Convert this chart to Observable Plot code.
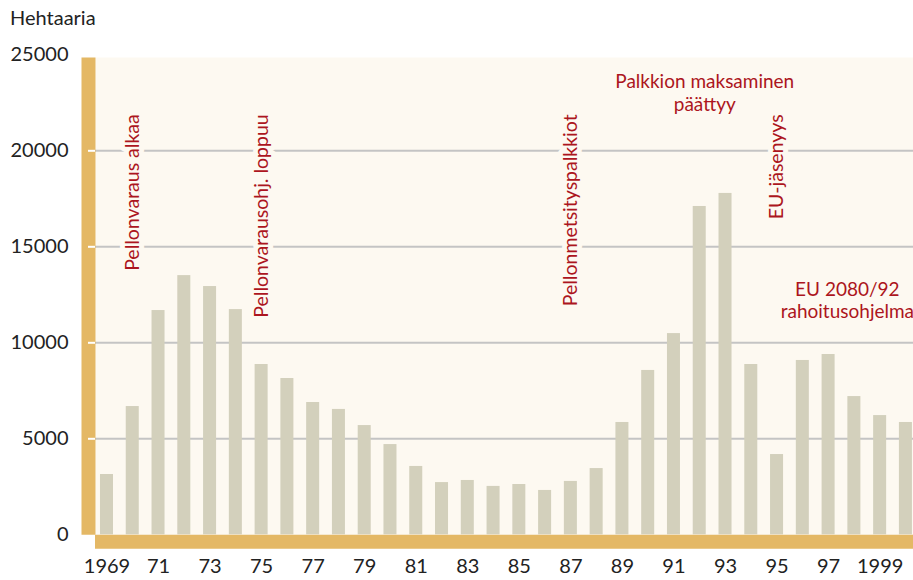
<!DOCTYPE html>
<html><head><meta charset="utf-8">
<script src="https://cdn.jsdelivr.net/npm/d3@7"></script>
<script src="https://cdn.jsdelivr.net/npm/@observablehq/plot@0.6"></script>
<style>
html,body{margin:0;padding:0;background:#fff;overflow:hidden;font-family:Lato,"Open Sans",sans-serif}
#wrap{position:relative;width:913px;height:580px}
#title{position:absolute;left:10px;top:5px;font-size:20px;color:#222;line-height:24px}
#chart{position:absolute;left:0;top:0}
</style></head><body>
<div id="wrap"><div id="chart"></div><div id="title">Hehtaaria</div></div>
<script>
const years = [1969,1970,1971,1972,1973,1974,1975,1976,1977,1978,1979,1980,1981,1982,1983,1984,1985,1986,1987,1988,1989,1990,1991,1992,1993,1994,1995,1996,1997,1998,1999,2000];
const values = [3140,6680,11680,13500,12930,11730,8870,8140,6890,6530,5690,4700,3560,2720,2830,2520,2620,2310,2780,3450,5850,8560,10480,17100,17780,8870,4180,9080,9390,7200,6210,5850];
const xTickYears = [1969,1971,1973,1975,1977,1979,1981,1983,1985,1987,1989,1991,1993,1995,1997,1999];
const xTickLabels = ["1969","71","73","75","77","79","81","83","85","87","89","91","93","95","97","1999"];
const yTickValues = [0,5000,10000,15000,20000,25000];
const yGridValues = [5000,10000,15000,20000];
const vNoteTexts = ["Pellonvaraus alkaa","Pellonvarausohj. loppuu","Pellonmetsityspalkkiot","EU-jäsenyys"];
const vNoteYears = [1970,1975,1987,1995];
const vNoteTop = [21900,21900,21900,21900];
const hNoteTexts = ["Palkkion maksaminen\npäättyy","EU 2080/92\nrahoitusohjelma"];
const hNoteYears = [1992,1998];
const hNoteY = [23060,12250];

const cream = "#fdf9f1", yellow = "#e4b865", barColor = "#d3d0bc", grid = "#c4c4c4", red = "#ac1520";

const data = years.map((year,i)=>({year, value: values[i]}));
const vNotes = vNoteTexts.map((t,i)=>({text:t, year:vNoteYears[i], y:vNoteTop[i]}));
const hNotes = hNoteTexts.map((t,i)=>({text:t, year:hNoteYears[i], y:hNoteY[i], dx: i===0?5:-7}));
const labelOf = new Map(xTickYears.map((y,i)=>[y, xTickLabels[i]]));

const chart = Plot.plot({
  width: 913, height: 580,
  marginLeft: 95, marginRight: 0, marginTop: 57, marginBottom: 45.7,
  style: {fontFamily: "Lato, 'Open Sans', sans-serif", fontSize: "20px", color: "#222", background: "transparent", overflow: "visible"},
  x: {type: "band", domain: years, range: [93.6, 918.3], paddingInner: 0.495, paddingOuter: 0.2475, align: 0.5, round: false},
  y: {domain: [0, 25000], range: [534.3, 54.3]},
  marks: [
    Plot.frame({fill: cream, stroke: null}),
    Plot.gridY(yGridValues, {stroke: grid, strokeWidth: 2, strokeOpacity: 1}),
    Plot.barY(data, {x: "year", y: "value", fill: barColor}),
    Plot.text(vNotes, {x: "year", y: "y", text: "text", rotate: -90, textAnchor: "end", fill: red, stroke: cream, strokeWidth: 10, fontSize: 19.5}),
    ...hNotes.map(n => Plot.text([n], {x: "year", y: "y", text: "text", dx: n.dx, lineHeight: 1.2, fill: red, stroke: cream, strokeWidth: 6, fontSize: 19})),
    Plot.ruleY([0], {stroke: yellow, strokeWidth: 14, dy: 7, strokeLinecap: "butt"}),
    Plot.frame({anchor: "left", stroke: yellow, strokeWidth: 14, dx: -7, strokeLinecap: "butt"}),
    Plot.axisY({ticks: yGridValues, tickSize: 7, stroke: "white", strokeWidth: 2, strokeOpacity: 1, text: null, label: null}),
    Plot.axisY({ticks: yTickValues, tickSize: 0, tickPadding: 27, tickFormat: d => String(d), label: null, fill: "#222"}),
    Plot.axisX({ticks: xTickYears, tickSize: 0, tickPadding: 24, tickFormat: d => labelOf.get(d), label: null, fill: "#222"})
  ]
});
document.getElementById("chart").appendChild(chart);
</script>
</body></html>
